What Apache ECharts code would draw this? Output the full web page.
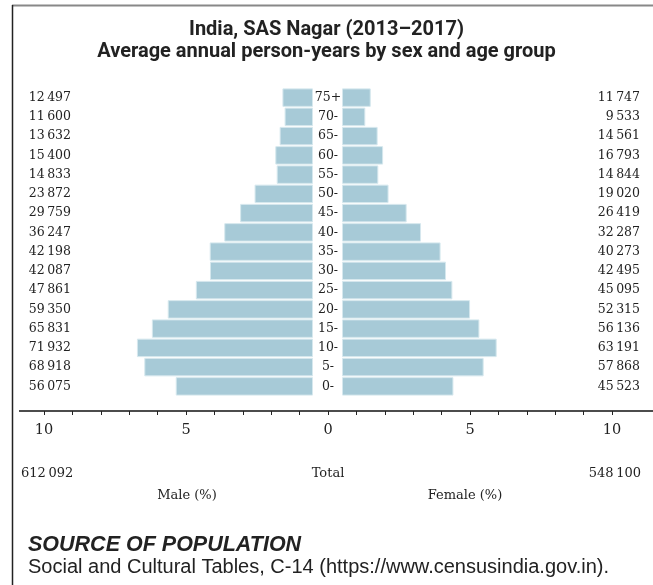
<!DOCTYPE html>
<html>
<head>
<meta charset="utf-8">
<script src="https://cdn.jsdelivr.net/npm/echarts@6/dist/echarts.min.js"></script>
<style>
  html, body { margin: 0; padding: 0; background: #fff; }
  #chart { width: 653px; height: 585px; }
</style>
</head>
<body>
<div id="chart"></div>
<script>
// age groups, youngest first (category axis draws bottom-up)
const ageGroups = ['0-', '5-', '10-', '15-', '20-', '25-', '30-', '35-', '40-', '45-', '50-', '55-', '60-', '65-', '70-', '75+']
const maleCounts = [56075, 68918, 71932, 65831, 59350, 47861, 42087, 42198, 36247, 29759, 23872, 14833, 15400, 13632, 11600, 12497]
const femaleCounts = [45523, 57868, 63191, 56136, 52315, 45095, 42495, 40273, 32287, 26419, 19020, 14844, 16793, 14561, 9533, 11747]
const totals = [612092, 548100] // male, female
const axisTicks = [-10, -5, 0, 5, 10]

const SERIF = 'DejaVu Serif'
const BAR = '#a7cad7'

// share of whole population, in percent
const grand = totals[0] + totals[1]
const malePct = maleCounts.map(v => v / grand * 100)
const femalePct = femaleCounts.map(v => v / grand * 100)

// 12 497 style, thin space separator
function fmt (n) {
  return String(n).replace(/\B(?=(\d{3})+(?!\d))/g, '\u2009')
}

const chart = echarts.init(document.getElementById('chart'))

const option = {
  animation: false,
  title: {
    text: 'India, SAS Nagar (2013\u20132017)\nAverage annual person-years by sex and age group',
    left: 'center',
    top: 14,
    textStyle: {
      fontFamily: 'Roboto',
      fontWeight: 'bold',
      fontSize: 20,
      lineHeight: 22,
      color: '#222'
    }
  },
  grid: [
    // male
    { left: 29, width: 284, top: 88, height: 308 },
    // female
    { left: 342, width: 284, top: 88, height: 308 },
    // bottom ruler
    { left: 44, width: 568, top: 400, height: 11 }
  ],
  xAxis: [
    { gridIndex: 0, type: 'value', min: 0, max: 10, inverse: true, show: false },
    { gridIndex: 1, type: 'value', min: 0, max: 10, show: false },
    {
      gridIndex: 2,
      type: 'value',
      min: -10,
      max: 10,
      interval: 1,
      axisLine: { show: false },
      axisTick: { show: true, length: 4, lineStyle: { color: '#222', width: 1 } },
      splitLine: { show: false },
      axisLabel: {
        margin: 12,
        fontFamily: SERIF,
        fontSize: 14.5,
        color: '#222',
        formatter: v => axisTicks.includes(v) ? String(Math.abs(v)) : ''
      }
    }
  ],
  yAxis: [
    // age labels in the middle gap
    {
      gridIndex: 0,
      type: 'category',
      data: ageGroups,
      position: 'right',
      axisLine: { show: false },
      axisTick: { show: false },
      axisLabel: { align: 'center', margin: 15, fontFamily: SERIF, fontSize: 12.5, color: '#222' }
    },
    // male counts at far left
    {
      gridIndex: 0,
      type: 'category',
      data: maleCounts.map(fmt),
      position: 'left',
      offset: -50,
      axisLine: { show: false },
      axisTick: { show: false },
      axisLabel: { align: 'right', margin: 8, fontFamily: SERIF, fontSize: 12.5, color: '#222' }
    },
    // female counts at far right
    {
      gridIndex: 1,
      type: 'category',
      data: femaleCounts.map(fmt),
      position: 'right',
      axisLine: { show: false },
      axisTick: { show: false },
      axisLabel: { align: 'right', margin: 14, fontFamily: SERIF, fontSize: 12.5, color: '#222' }
    },
    { gridIndex: 2, type: 'value', show: false }
  ],
  series: [
    {
      name: 'Male',
      type: 'bar',
      xAxisIndex: 0,
      yAxisIndex: 0,
      data: malePct,
      barCategoryGap: '4%',
      itemStyle: { color: BAR, borderColor: '#d6e8ee', borderWidth: 1 }
    },
    {
      name: 'Female',
      type: 'bar',
      xAxisIndex: 1,
      yAxisIndex: 2,
      data: femalePct,
      barCategoryGap: '4%',
      itemStyle: { color: BAR, borderColor: '#d6e8ee', borderWidth: 1 }
    }
  ],
  graphic: [
    // frame: top rule and left rule
    { type: 'line', shape: { x1: 12, y1: 5.5, x2: 653, y2: 5.5 }, style: { stroke: '#888', lineWidth: 2 } },
    { type: 'line', shape: { x1: 12.5, y1: 5, x2: 12.5, y2: 585 }, style: { stroke: '#222', lineWidth: 1.5 } },
    // ruler line
    { type: 'line', shape: { x1: 19, y1: 411, x2: 653, y2: 411 }, style: { stroke: '#111', lineWidth: 1.5 } },
    { type: 'text', left: 21, top: 467, style: { text: fmt(totals[0]), fontFamily: SERIF, fontSize: 13, fill: '#222' } },
    { type: 'text', x: 328, y: 474, style: { text: 'Total', fontFamily: SERIF, fontSize: 13, fill: '#222', textAlign: 'center', textVerticalAlign: 'middle' } },
    { type: 'text', x: 641, y: 474, style: { text: fmt(totals[1]), fontFamily: SERIF, fontSize: 13, fill: '#222', textAlign: 'right', textVerticalAlign: 'middle' } },
    { type: 'text', x: 187, y: 496, style: { text: 'Male (%)', fontFamily: SERIF, fontSize: 13, fill: '#222', textAlign: 'center', textVerticalAlign: 'middle' } },
    { type: 'text', x: 465, y: 496, style: { text: 'Female (%)', fontFamily: SERIF, fontSize: 13, fill: '#222', textAlign: 'center', textVerticalAlign: 'middle' } },
    // source note
    { type: 'text', x: 28, y: 545, style: { text: 'SOURCE OF POPULATION', fontFamily: 'Liberation Sans', fontWeight: 'bold', fontStyle: 'italic', fontSize: 21.5, fill: '#222', textVerticalAlign: 'middle' } },
    { type: 'text', x: 28, y: 567, style: { text: 'Social and Cultural Tables, C-14 (https://www.censusindia.gov.in).', fontFamily: 'Liberation Sans', fontSize: 20, fill: '#222', textVerticalAlign: 'middle' } }
  ]
}

chart.setOption(option)
</script>
</body>
</html>
